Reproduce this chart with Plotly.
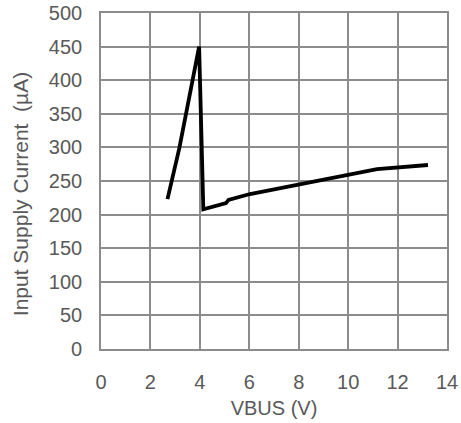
import plotly.graph_objects as go

# Measured input supply current vs. VBUS
vbus_v = [2.69, 3.17, 3.97, 4.14, 5.06, 5.16, 6.03, 7.93, 9.95, 11.17, 13.23]
current_ua = [223, 299, 450, 208, 217, 222, 230.6, 244.5, 259.4, 267.8, 273.8]

x_ticks = [0, 2, 4, 6, 8, 10, 12, 14]
y_ticks = [0, 50, 100, 150, 200, 250, 300, 350, 400, 450, 500]

grid_color = "#8c8c8c"
text_color = "#595959"
font_family = "Liberation Sans, Arial, sans-serif"

fig = go.Figure(
    go.Scatter(
        x=vbus_v,
        y=current_ua,
        mode="lines",
        line=dict(color="black", width=3.8),
        hoverinfo="skip",
    )
)

fig.update_layout(
    width=461,
    height=423,
    margin=dict(l=101, r=14, t=13, b=74),
    paper_bgcolor="white",
    plot_bgcolor="white",
    showlegend=False,
    font=dict(family=font_family, size=20, color=text_color),
)

fig.update_xaxes(
    range=[0, 14],
    tickvals=x_ticks,
    ticktext=[str(v) for v in x_ticks],
    automargin=False,
    showgrid=True,
    gridcolor=grid_color,
    gridwidth=1.6,
    zeroline=False,
    showline=True,
    linecolor=grid_color,
    linewidth=1.6,
    mirror=True,
    ticks="",
    ticklabelstandoff=14,
    title=dict(text="VBUS (V)", standoff=9, font=dict(size=20, color=text_color)),
)

fig.update_yaxes(
    range=[0, 500],
    tickvals=y_ticks,
    ticktext=[str(v) for v in y_ticks],
    automargin=False,
    showgrid=True,
    gridcolor=grid_color,
    gridwidth=1.6,
    zeroline=False,
    showline=True,
    linecolor=grid_color,
    linewidth=1.6,
    mirror=True,
    ticks="",
    ticklabelstandoff=13,
)

# Y-axis title placed as a rotated annotation to the left of the tick labels
fig.add_annotation(
    text="Input Supply Current  (µA)",
    xref="paper",
    yref="paper",
    x=0,
    y=0.4607,
    xanchor="center",
    yanchor="middle",
    xshift=-81,
    textangle=-90,
    showarrow=False,
    font=dict(family=font_family, size=21, color=text_color),
)

fig.write_html("out.html")
